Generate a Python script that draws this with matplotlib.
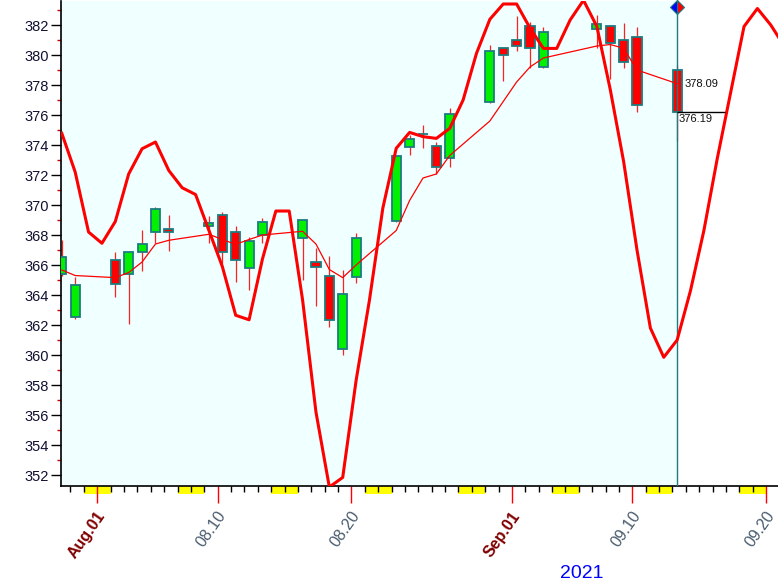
import matplotlib.pyplot as plt
import matplotlib.transforms as mtransforms
from matplotlib.patches import Rectangle
import pandas as pd

plt.rcParams['font.family'] = ['Liberation Sans', 'DejaVu Sans']

# daily candles
dates = ['2021-07-29', '2021-07-30',
         '2021-08-02', '2021-08-03', '2021-08-04', '2021-08-05', '2021-08-06',
         '2021-08-09', '2021-08-10', '2021-08-11', '2021-08-12', '2021-08-13',
         '2021-08-16', '2021-08-17', '2021-08-18', '2021-08-19', '2021-08-20',
         '2021-08-23', '2021-08-24', '2021-08-25', '2021-08-26', '2021-08-27',
         '2021-08-30', '2021-08-31', '2021-09-01', '2021-09-02', '2021-09-03',
         '2021-09-07', '2021-09-08', '2021-09-09', '2021-09-10', '2021-09-13']
opens = [365.38, 362.55, 366.31, 365.38, 366.84, 368.22, 368.38,
         368.62, 369.33, 368.18, 365.78, 367.98,
         367.78, 366.18, 365.24, 360.38, 365.18,
         368.93, 373.89, 374.72, 373.93, 373.11,
         376.89, 380.44, 381.00, 381.91, 379.22,
         381.73, 381.91, 380.98, 381.18, 378.98]
highs = [367.67, 365.22, 366.87, 366.90, 368.33, 369.89, 369.33,
         369.27, 369.53, 368.60, 367.85, 369.11,
         369.00, 367.11, 366.60, 365.67, 368.16,
         373.30, 374.67, 375.33, 374.22, 376.49,
         380.67, 380.44, 382.60, 382.18, 381.89,
         382.67, 382.00, 382.11, 381.89, 379.33]
lows = [365.25, 362.42, 363.89, 362.04, 365.62, 367.45, 366.95,
        367.45, 366.10, 364.89, 364.33, 367.45,
        365.00, 363.29, 361.89, 360.00, 364.78,
        368.90, 373.33, 373.82, 372.07, 372.56,
        376.82, 378.29, 380.29, 379.11, 379.16,
        380.44, 378.40, 379.16, 376.22, 374.24]
closes = [366.51, 364.65, 364.71, 366.84, 367.38, 369.71, 368.18,
          368.78, 366.89, 366.31, 367.58, 368.84,
          368.98, 365.87, 362.31, 364.04, 367.78,
          373.27, 374.38, 374.75, 372.51, 376.04,
          380.27, 379.98, 380.58, 380.44, 381.51,
          382.04, 380.78, 379.51, 376.64, 376.19]
ma = [365.67, 365.30, 365.16, 365.50, 366.20, 367.40, 367.65,
      368.05, 367.70, 367.38, 367.70, 368.00,
      368.25, 367.40, 365.70, 365.16, 366.00,
      368.30, 370.30, 371.80, 372.07, 373.30,
      375.60, 376.90, 378.20, 379.20, 379.80,
      380.60, 380.70, 380.45, 379.00, 378.09]

# cycle line, one value per calendar day from Jul 29
cycle_start = '2021-07-29'
cycle = [374.78, 372.20, 368.20, 367.45, 368.90, 372.07, 373.75, 374.20,
         372.30, 371.15, 370.70, 368.30, 365.90, 362.65, 362.35, 366.40,
         369.60, 369.60, 363.67, 356.20, 351.20, 351.84, 358.30, 363.67,
         369.80, 373.78, 374.84, 374.56, 374.44, 375.11, 377.00, 380.11,
         382.38, 383.40, 383.40, 381.80, 380.44, 380.44, 382.33, 383.65,
         381.90, 377.70, 372.90, 367.00, 361.80, 359.85, 361.00, 364.30,
         368.30, 373.10, 377.50, 381.90, 383.10, 382.00, 380.60]

tick_dates = ['2021-08-01', '2021-08-10', '2021-08-20', '2021-09-01', '2021-09-10', '2021-09-20']
tick_labels = ['Aug.01', '08.10', '08.20', 'Sep.01', '09.10', '09.20']
saturdays = pd.date_range('2021-07-31', '2021-09-18', freq='7D')

base = pd.Timestamp('2021-08-01')


def day(s):
    return (pd.Timestamp(s) - base).days


shift = 0.35
xs = [day(d) + shift for d in dates]
cx = [day(cycle_start) + i + shift for i in range(len(cycle))]
last_x = xs[-1]

fig = plt.figure(figsize=(7.78, 5.85), dpi=100)
ax = fig.add_axes([61 / 778, 99 / 585, 717 / 778, 485 / 585])
ax.set_xlim(-2.71, 50.89)
ax.set_ylim(351.27, 383.6)
ax.axvspan(-2.71, last_x, color='#F0FFFF', zorder=0, lw=0)

edge = '#1C7C80'
for x, o, h, l, c in zip(xs, opens, highs, lows, closes):
    ax.vlines(x, l, h, color='#FF2020', lw=0.9, zorder=2)
    col = '#00F000' if c >= o else '#FF0000'
    ax.add_patch(Rectangle((x - 0.34, min(o, c)), 0.68, abs(c - o),
                           facecolor=col, edgecolor=edge, lw=1.3, zorder=3))

ax.plot(xs, ma, color='#FF0000', lw=0.9, zorder=4)
ax.plot(cx, cycle, color='#FF0000', lw=2.2, zorder=5)

# last bar markers
ax.axvline(last_x, color=edge, lw=1, zorder=3)
ax.plot([last_x], [0.988], marker='D', ms=7, fillstyle='left', mfc='#0000FF',
        mfcalt='#FF0000', mec=edge, mew=0.8, transform=ax.get_xaxis_transform(),
        clip_on=False, zorder=6)
ax.hlines(closes[-1], last_x, last_x + 3.55, color='black', lw=1, zorder=6)
ax.annotate(f'{ma[-1]:.2f}', (last_x, ma[-1]), xytext=(5, 0), textcoords='offset points',
            ha='left', va='center', fontsize=8, color='#101010')
ax.annotate(f'{closes[-1]:.2f}', (last_x, closes[-1]), xytext=(1, -1.5),
            textcoords='offset points', ha='left', va='top', fontsize=8, color='#101010')

# weekend marks under the axis
xtr = ax.get_xaxis_transform()
for s in saturdays:
    ax.add_patch(Rectangle((day(s), 0), 2, -0.016, transform=xtr, clip_on=False,
                           facecolor='#FFFF00', edgecolor='none', zorder=1))

for sp in ['top', 'right']:
    ax.spines[sp].set_visible(False)
ax.spines['left'].set_linewidth(1.2)
ax.spines['bottom'].set_linewidth(1.2)

ax.set_yticks(range(352, 383, 2))
ax.set_yticks(range(353, 384, 2), minor=True)
ax.tick_params(axis='y', which='major', length=7, width=1, color='black',
               labelsize=10.5, labelcolor='#101030', pad=2)
ax.tick_params(axis='y', which='minor', length=3, width=1, color='#CC0000')

ax.set_xticks([day(d) for d in tick_dates])
ax.set_xticklabels([])
ax.set_xticks(range(-2, 51), minor=True)
ax.tick_params(axis='x', which='major', length=12, width=1, color='#FF0000')
ax.tick_params(axis='x', which='minor', length=4, width=1, color='black')

off = mtransforms.ScaledTranslation(0.05, -0.27, fig.dpi_scale_trans)
for d, lab in zip(tick_dates, tick_labels):
    bold = lab[0].isalpha()
    ax.text(day(d), 0, lab, transform=xtr + off, rotation=55, rotation_mode='anchor',
            ha='right', va='center', fontsize=11.5,
            color='#800000' if bold else '#4A5C6E',
            fontweight='bold' if bold else 'normal')

fig.text(582 / 778, 1 - 574 / 585, '2021', color='#0000FF', fontsize=14,
         ha='center', va='center')

fig.savefig('out.png', dpi=100)
